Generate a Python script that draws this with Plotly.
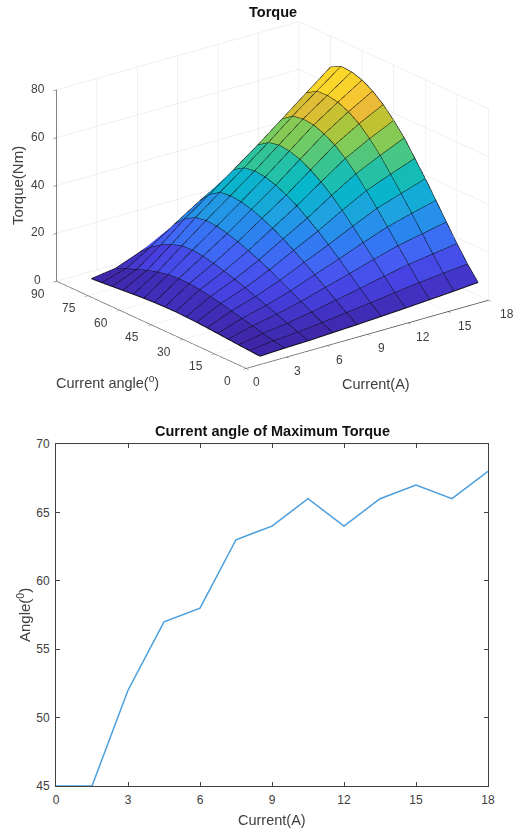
import plotly.graph_objects as go

FONT = "Liberation Sans, Arial, sans-serif"
INK = "#404040"

# surface grid
current_grid = [1.8, 3.6, 5.4, 7.2, 9.0, 10.8, 12.6, 14.4, 16.2, 18.0]
angle_grid = [5, 10, 15, 20, 25, 30, 35, 40, 45, 50, 55, 60, 65, 70, 75, 80, 85]

# torque (Nm) along the angle grid, one list per current
torque_1_8 = [.25, .55, .9, 1.25, 1.6, 1.95, 2.25, 2.45, 2.6, 2.55, 2.4, 2.15, 1.8, 1.4, 1.0, .6, .25]
torque_3_6 = [.7, 1.7, 2.8, 3.9, 5, 6.1, 7.2, 8.1, 8.9, 9.4, 9.5, 9.1, 8.2, 6.9, 5.2, 3.5, 1.7]
torque_5_4 = [1.0, 2.5, 4.2, 5.9, 7.6, 9.3, 10.9, 12.4, 13.8, 15, 16, 16.5, 16.3, 14.8, 12.6, 9.6, 5.6]
torque_7_2 = [1.5, 3.6, 6, 8.4, 10.8, 13.2, 15.5, 17.6, 19.5, 21.2, 22.6, 23.6, 24, 23.2, 20.8, 16.5, 10]
torque_9_0 = [2.0, 4.9, 8.1, 11.4, 14.7, 17.8, 20.8, 23.6, 26, 28.1, 29.8, 31, 31.5, 30.9, 28, 23, 14.5]
torque_10_8 = [2.6, 6.2, 10.2, 14.3, 18.4, 22.3, 26, 29.4, 32.5, 35, 37.1, 38.5, 39, 38.3, 35.5, 29, 19]
torque_12_6 = [3.2, 7.6, 12.4, 17.4, 22.4, 27.2, 31.8, 36, 39.6, 42.6, 45, 46.5, 47, 46, 43, 36, 24]
torque_14_4 = [3.9, 8.9, 14.5, 20.3, 26.1, 31.8, 37.2, 42.2, 46.6, 50.2, 52.8, 54.5, 55, 54.2, 51, 44, 30]
torque_16_2 = [4.6, 10, 16, 22.4, 28.9, 35.2, 41.2, 47, 52, 56.2, 59.2, 61.2, 62, 61.8, 59, 52, 36]
torque_18_0 = [5.4, 11, 17.5, 24.5, 31.5, 38.5, 45, 51.5, 56.8, 61.4, 65, 67.6, 69, 69.3, 67, 60, 42]

torque_rows = [torque_1_8, torque_3_6, torque_5_4, torque_7_2, torque_9_0,
               torque_10_8, torque_12_6, torque_14_4, torque_16_2, torque_18_0]

# axis ticks of the upper chart
current_ticks = [0, 3, 6, 9, 12, 15, 18]
angle_ticks = [0, 15, 30, 45, 60, 75, 90]
torque_ticks = [0, 20, 40, 60, 80]

# lower chart
current_line = [0, 1.5, 3, 4.5, 6, 7.5, 9, 10.5, 12, 13.5, 15, 16.5, 18]
best_angle = [45, 45, 52, 57, 58, 63, 64, 66, 64, 66, 67, 66, 68]

PARULA = [[0, "#3e26a8"], [.1, "#4740e0"], [.2, "#4560f5"], [.3, "#2b85f0"], [.4, "#1ea4de"],
          [.5, "#05b8c8"], [.6, "#35c494"], [.7, "#7acc5c"], [.8, "#c4c230"], [.87, "#f3b93a"],
          [.95, "#fbd72a"], [1, "#f9fb15"]]

# mesh: one quad per cell, coloured by its lowest-index corner
nI, nA = len(current_grid), len(angle_grid)
vx, vy, vz = [], [], []
for i in range(nI):
    for j in range(nA):
        vx.append(current_grid[i]); vy.append(angle_grid[j]); vz.append(torque_rows[i][j])
ti, tj, tk, tint = [], [], [], []
for i in range(nI - 1):
    for j in range(nA - 1):
        a = i * nA + j; b = a + 1; c = a + nA; d = c + 1
        ti += [a, b]; tj += [b, d]; tk += [c, c]
        tint += [torque_rows[i][j]] * 2

# grid lines over the surface
lx, ly, lz = [], [], []
for i in range(nI):
    lx += [current_grid[i]] * nA + [None]
    ly += list(angle_grid) + [None]
    lz += list(torque_rows[i]) + [None]
for j in range(nA):
    lx += list(current_grid) + [None]
    ly += [angle_grid[j]] * nI + [None]
    lz += [torque_rows[i][j] for i in range(nI)] + [None]

fig = go.Figure()
fig.add_trace(go.Mesh3d(
    x=vx, y=vy, z=vz, i=ti, j=tj, k=tk, intensity=tint, intensitymode="cell",
    colorscale=PARULA, cmin=0.3, cmax=65.5, showscale=False, flatshading=True,
    lighting=dict(ambient=1, diffuse=0, specular=0, roughness=1, fresnel=0),
    hoverinfo="skip", scene="scene"))
fig.add_trace(go.Scatter3d(x=lx, y=ly, z=lz, mode="lines",
                           line=dict(color="#0c0c0c", width=2),
                           connectgaps=False, hoverinfo="skip", showlegend=False, scene="scene"))
fig.add_trace(go.Scatter(x=current_line, y=best_angle, mode="lines", cliponaxis=False,
                         line=dict(color="#4a9fdc", width=1.5), showlegend=False,
                         xaxis="x", yaxis="y"))

def axis3d(rng, vals):
    return dict(range=rng, tickmode="array", tickvals=vals, showticklabels=False,
                title=dict(text=""), showbackground=False,
                gridcolor="#e2e2e2", gridwidth=1, showline=True, linecolor=INK, linewidth=1.5,
                ticks="outside", ticklen=4, tickcolor=INK, zeroline=False, showspikes=False)

def tick_note(x, y, z, text, xshift, yshift):
    return dict(x=x, y=y, z=z, text=text, showarrow=False, xshift=xshift, yshift=yshift,
                xanchor="center", yanchor="middle", font=dict(family=FONT, size=12, color=INK))

scene_notes = (
    [tick_note(v, 0, 0, str(v), 10 + .45 * v, -14) for v in current_ticks] +
    [tick_note(0, v, 0, str(v), -19, -12.5) for v in angle_ticks] +
    [tick_note(0, 90, v, str(v), -19, 1) for v in torque_ticks]
)

W = 513; H = 832
def px(x): return x / W
def py(y): return 1 - y / H

S = 1.628
K = 0.085
fig.update_layout(
    width=W, height=H, autosize=False, margin=dict(l=0, r=0, t=0, b=0),
    paper_bgcolor="white", plot_bgcolor="white", showlegend=False,
    scene=dict(
        domain=dict(x=[0, 1], y=[py(384), py(6)]),
        aspectmode="manual", aspectratio=dict(x=S, y=S, z=.667 * S),
        camera=dict(projection=dict(type="orthographic"),
                    eye=dict(x=-1.15 - .788 * K, y=-1.47 + .616 * K, z=.72),
                    center=dict(x=-.788 * K, y=.616 * K, z=0),
                    up=dict(x=0, y=0, z=1)),
        xaxis=axis3d([0, 18], current_ticks),
        yaxis=axis3d([0, 90], angle_ticks),
        zaxis=axis3d([0, 80], torque_ticks),
        annotations=scene_notes),
    xaxis=dict(domain=[px(56), px(488)], range=[0, 18], dtick=3, anchor="y", mirror="ticks", automargin=False,
               showline=True, linecolor=INK, linewidth=1, ticks="inside", ticklen=4, tickcolor=INK, ticklabelstandoff=3,
               showgrid=False, zeroline=False, tickfont=dict(family=FONT, size=12, color=INK)),
    yaxis=dict(domain=[py(786), py(444)], range=[45, 70], dtick=5, anchor="x", mirror="ticks", automargin=False,
               showline=True, linecolor=INK, linewidth=1, ticks="inside", ticklen=4, tickcolor=INK, ticklabelstandoff=3,
               showgrid=False, zeroline=False, tickfont=dict(family=FONT, size=12, color=INK)),
    annotations=[
        dict(text="<b>Torque</b>", x=px(273), y=py(12), font=dict(size=14.5, color="#111")),
        dict(text="Torque(Nm)", x=px(17), y=py(186), textangle=-90, font=dict(size=15, color=INK)),
        dict(text="Current angle(<sup>o</sup>)", x=px(107), y=py(382), font=dict(size=14.5, color=INK)),
        dict(text="Current(A)", x=px(376), y=py(384), font=dict(size=14.5, color=INK)),
        dict(text="<b>Current angle of Maximum Torque</b>", x=px(272), y=py(431), font=dict(size=14.5, color="#111")),
        dict(text="Current(A)", x=px(272), y=py(820), font=dict(size=14.5, color=INK)),
        dict(text="Angle(<sup>0</sup>)", x=px(23), y=py(615), textangle=-90, font=dict(size=15, color=INK)),
    ],
)
for a in fig.layout.annotations:
    a.update(xref="paper", yref="paper", showarrow=False, xanchor="center", yanchor="middle")
    a.font.family = FONT

fig.write_html("out.html", config={"displayModeBar": False},
               post_script="document.body.style.margin='0';document.documentElement.style.overflow='hidden';")
